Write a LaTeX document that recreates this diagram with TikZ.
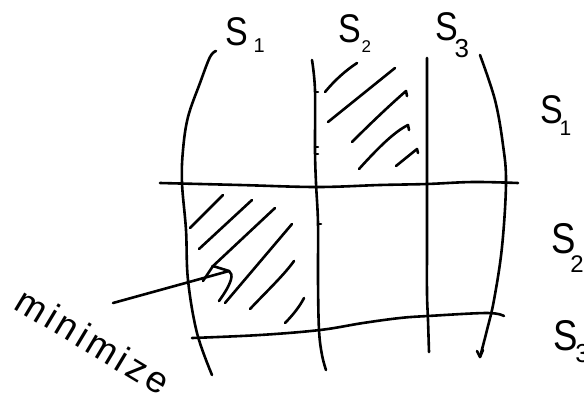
\documentclass[tikz,border=0pt]{standalone}
\usepackage{fontspec}
\usepackage{graphicx}
\setmainfont{Liberation Sans}
\newfontfamily\handspaced[LetterSpace=10]{Liberation Sans}
\newcommand\handS{\scalebox{0.85}[1]{S}}
\newcommand\mylab[4]{\handS\hspace{#1pt}\raisebox{-#2pt}{\fontsize{#3}{#3}\selectfont #4}}
\begin{document}
\begin{tikzpicture}[x=1pt,y=-1pt,
  pen/.style={line width=2.6pt, line cap=round, line join=round, black},
  lbl/.style={inner sep=0pt, outer sep=0pt, anchor=base west, font=\fontsize{40}{40}\selectfont},
  bigl/.style={lbl, font=\fontsize{43}{43}\selectfont}]
\useasboundingbox (0,0) rectangle (584,402);

% labels
\node[lbl] (topS1) at (225,45) {\mylab{6}{7}{20}{1}};
\node[lbl] (topS2) at (338,42) {\mylab{1}{10}{17}{2}};
\node[lbl] (topS3) at (435,40) {\mylab{-3}{17}{26}{3}};
\node[lbl] (rS1) at (540,123) {\mylab{-3}{12}{21}{1}};
\node[bigl] (rS2) at (551,253) {\mylab{-5}{19}{24}{2}};
\node[bigl] (rS3) at (553,350) {\mylab{-2}{12}{26}{3}};

% vertical lines
\draw[pen] plot[smooth, tension=0.6] coordinates {(216,51) (210,57) (200,83) (188,117) (183,150) (182,183) (186,230) (188,280) (197,333) (212,375)};
\draw[pen] plot[smooth, tension=0.6] coordinates {(312,60) (315,90) (315,150) (316,183) (318,223) (318,280) (319,330) (322,355) (326,370)};
\draw[pen] plot[smooth, tension=0.6] coordinates {(427,58) (427,120) (427,183) (427,240) (427,293) (428,320) (429,352)};
\draw[pen] plot[smooth, tension=0.6] coordinates {(480,55) (495,100) (503,145) (506,183) (502,247) (494,300) (487,330) (480,357)};

% horizontal lines
\draw[pen] plot[smooth, tension=0.6] coordinates {(160,183) (240,185) (317,187) (380,185) (427,184) (473,182) (518,183)};
\draw[pen] plot[smooth, tension=0.6] coordinates {(192,338) (260,335) (320,330) (363,323) (400,318) (428,316) (487,313) (504,316)};

% small ticks on second vertical line
\draw[pen] (315,92) -- (318,92);
\draw[pen] (315,147) -- (318,147);
\draw[pen] (315,154) -- (318,154);
\draw[pen] (318,224) -- (321,224);
\draw[pen] (477,351) -- (480,357) -- (483,350);

% hatching, upper cell
\draw[pen] (325,92) .. controls (335,80) and (345,71) .. (357,63);
\draw[pen] (328,122) -- (395,68);
\draw[pen] (352,142) .. controls (372,122) and (390,105) .. (406,91) -- (407,96);
\draw[pen] (359,169) .. controls (378,148) and (394,132) .. (408,125) -- (409,130);
\draw[pen] (396,166) -- (417,149) -- (418,153);

% hatching, lower cell
\draw[pen] (190,228) -- (223,195);
\draw[pen] (199,249) -- (252,200);
\draw[pen] (212,267) -- (275,208);
\draw[pen] (225,303) -- (292,224);
\draw[pen] (250,309) .. controls (268,290) and (284,275) .. (294,261);
\draw[pen] (285,323) .. controls (293,315) and (300,306) .. (304,298);

% text and arrow
\node[rotate=-31, inner sep=0pt, font=\handspaced\fontsize{37}{37}\selectfont] (mintext) at (93,341) {minimize};
\coordinate (arrowstart) at (113,303);
\coordinate (arrowtip) at (229,271);
\draw[pen] (arrowstart) -- (arrowtip);
\draw[pen] (203,281) -- (213,266) -- (arrowtip) .. controls (234,274) and (232,283) .. (219,301);
\end{tikzpicture}
\end{document}
